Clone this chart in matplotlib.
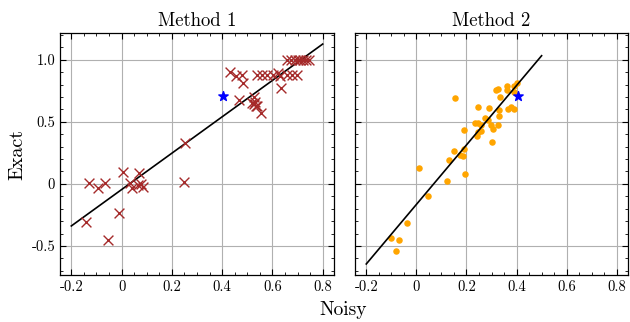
import numpy as np
import matplotlib
matplotlib.use("Agg")
import matplotlib.pyplot as plt
from matplotlib.ticker import MultipleLocator, FixedLocator, FixedFormatter

plt.rcParams['font.family'] = 'serif'
plt.rcParams['font.serif'] = ['cmr10', 'DejaVu Serif']
plt.rcParams['mathtext.fontset'] = 'cm'
plt.rcParams['axes.unicode_minus'] = False
plt.rcParams['axes.formatter.use_mathtext'] = True

# ---- data ----
m1_noisy = [-0.140, -0.129, -0.092, -0.065, -0.056, -0.012, 0.007, 0.034, 0.043, 0.071,
            0.064, 0.077, 0.087, 0.251, 0.247,
            0.431, 0.457, 0.478, 0.484, 0.468, 0.518, 0.525, 0.530, 0.535, 0.538, 0.553,
            0.528, 0.538, 0.558, 0.578, 0.604, 0.624, 0.630, 0.658, 0.678, 0.698, 0.635,
            0.660, 0.675, 0.690, 0.700, 0.710, 0.720, 0.735, 0.745]
m1_exact = [-0.304, 0.005, -0.035, 0.005, -0.452, -0.237, 0.099, 0.005, -0.030, 0.091,
            -0.008, 0.000, -0.027, 0.328, 0.011,
            0.898, 0.865, 0.879, 0.812, 0.677, 0.650, 0.640, 0.660, 0.625, 0.624, 0.570,
            0.700, 0.879, 0.879, 0.879, 0.879, 0.892, 0.870, 0.879, 0.879, 0.879, 0.772,
            1.000, 1.000, 1.000, 1.000, 1.000, 1.000, 1.000, 1.000]

m2_noisy = [-0.103, -0.069, -0.080, -0.036, 0.047, 0.009, 0.123, 0.193, 0.131, 0.151,
            0.176, 0.187, 0.191, 0.189, 0.155, 0.241, 0.247, 0.260, 0.233, 0.247,
            0.257, 0.273, 0.287, 0.297, 0.304, 0.301, 0.324, 0.331, 0.329, 0.291,
            0.248, 0.333, 0.317, 0.325, 0.360, 0.363, 0.367, 0.377, 0.389, 0.389,
            0.400, 0.389]
m2_exact = [-0.433, -0.449, -0.543, -0.315, -0.099, 0.124, 0.027, 0.078, 0.194, 0.263,
            0.231, 0.226, 0.280, 0.433, 0.694, 0.382, 0.414, 0.422, 0.489, 0.489,
            0.476, 0.530, 0.516, 0.476, 0.441, 0.341, 0.476, 0.543, 0.597, 0.610,
            0.616, 0.699, 0.753, 0.763, 0.758, 0.785, 0.605, 0.616, 0.602, 0.790,
            0.812, 0.737]

target_noisy = [0.405]
target_exact = [0.710]

# fitted lines: slope, intercept, x-range
m1_fit = (1.465, -0.046)
m1_fit_range = [-0.2, 0.8]
m2_fit = (2.396, -0.166)
m2_fit_range = [-0.2, 0.5]

titles = ["Method 1", "Method 2"]
x_ticks = [-0.2, 0.0, 0.2, 0.4, 0.6, 0.8]
x_tick_labels = ["-0.2", "0", "0.2", "0.4", "0.6", "0.8"]
y_ticks = [-0.5, 0.0, 0.5, 1.0]
y_tick_labels = ["-0.5", "0", "0.5", "1.0"]

# ---- figure ----
fig = plt.figure(figsize=(6.3, 3.22), dpi=100)
ax1 = fig.add_axes([60/630, 47/322, 274/630, 242/322])
ax2 = fig.add_axes([355/630, 47/322, 273/630, 242/322], sharey=ax1)

def style(ax, show_y):
    ax.set_xlim(-0.245, 0.845)
    ax.set_ylim(-0.734, 1.215)
    ax.xaxis.set_major_locator(FixedLocator(x_ticks))
    ax.xaxis.set_major_formatter(FixedFormatter(x_tick_labels))
    ax.yaxis.set_major_locator(FixedLocator(y_ticks))
    ax.yaxis.set_major_formatter(FixedFormatter(y_tick_labels))
    ax.xaxis.set_minor_locator(MultipleLocator(0.05))
    ax.yaxis.set_minor_locator(MultipleLocator(0.1))
    ax.tick_params(which='both', direction='in', top=True, right=True)
    ax.tick_params(which='major', length=4, width=0.8, labelsize=10.5)
    ax.tick_params(which='minor', length=2, width=0.6)
    ax.grid(True, which='major', color='#b0b0b0', lw=0.8)
    ax.set_axisbelow(True)
    for s in ax.spines.values():
        s.set_linewidth(0.9)
    if not show_y:
        plt.setp(ax.get_yticklabels(), visible=False)

style(ax1, True)
style(ax2, False)

# Method 1
xr = np.array(m1_fit_range)
ax1.plot(xr, m1_fit[0] * xr + m1_fit[1], color='black', lw=1.2, zorder=2)
ax1.scatter(m1_noisy, m1_exact, marker='x', color='#a52a2a', s=50, lw=1.0, zorder=3)
ax1.scatter(target_noisy, target_exact, marker='*', color='blue', s=50, zorder=4)
ax1.set_title(titles[0], fontsize=13.5, pad=5)

# Method 2
xr = np.array(m2_fit_range)
ax2.plot(xr, m2_fit[0] * xr + m2_fit[1], color='black', lw=1.2, zorder=3)
ax2.scatter(m2_noisy, m2_exact, marker='o', color='orange', s=22, lw=0, zorder=2)
ax2.scatter(target_noisy, target_exact, marker='*', color='blue', s=50, zorder=4)
ax2.set_title(titles[1], fontsize=13.5, pad=5)

ax1.set_ylabel("Exact", fontsize=14.5)
fig.text(343/630, 12/322, "Noisy", ha='center', va='center', fontsize=14)

fig.savefig("out.png", dpi=100)
